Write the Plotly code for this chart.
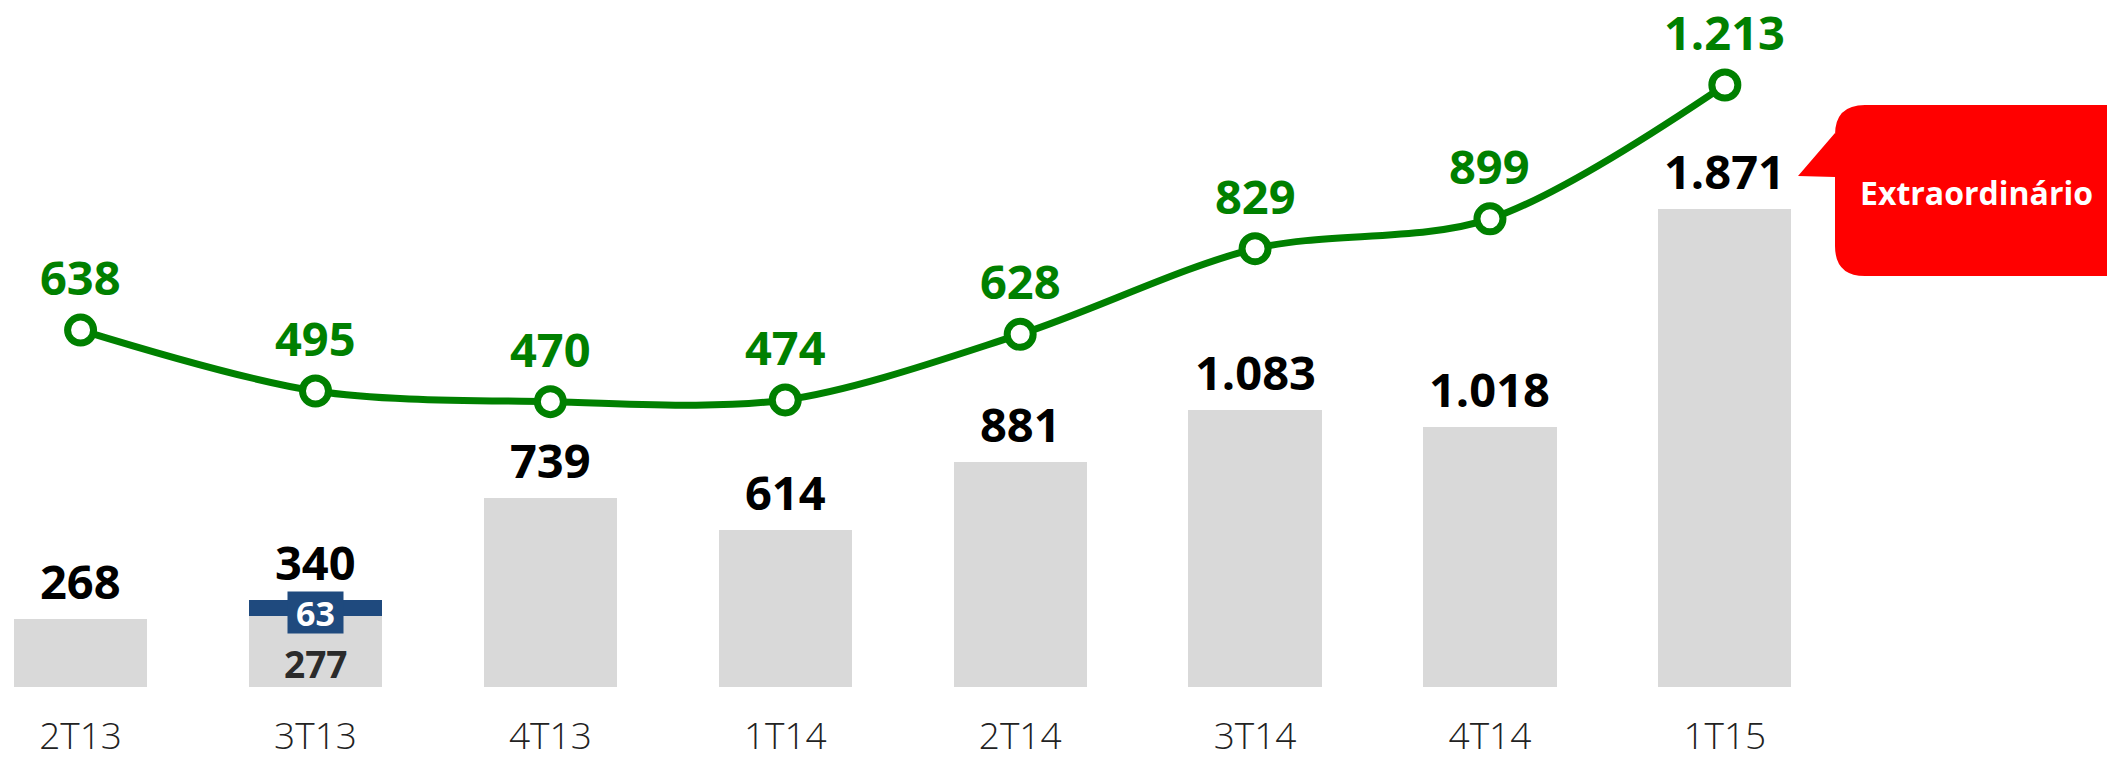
import plotly.graph_objects as go

categories = ["2T13", "3T13", "4T13", "1T14", "2T14", "3T14", "4T14", "1T15"]
bar_base = [268, 277, 739, 614, 881, 1083, 1018, 1871]
bar_extra = [0, 63, 0, 0, 0, 0, 0, 0]
line_values = [638, 495, 470, 474, 628, 829, 899, 1213]
callout_text = "Extraordinário"

GREEN = "#008000"
GRAY = "#D9D9D9"
BLUE = "#1F4A7E"
RED = "#FF0000"
FONT_B = "Open Sans"

W, H = 2115, 757
OFF = 8          # page offset of the plot div (body margin)
MB = 78
PH = H - MB


def fmt(v):
    return f"{v:,}".replace(",", ".")


fig = go.Figure()
fig.add_trace(go.Bar(x=categories, y=bar_base, marker=dict(color=GRAY, line=dict(width=0)),
                     width=0.567, yaxis="y", hoverinfo="skip"))
fig.add_trace(go.Bar(x=categories, y=bar_extra, marker=dict(color=BLUE, line=dict(width=0)),
                     width=0.567, yaxis="y", hoverinfo="skip"))
fig.add_trace(go.Scatter(x=categories, y=line_values, yaxis="y2", mode="lines+markers",
                         line=dict(color=GREEN, width=7, shape="spline", smoothing=0.9),
                         marker=dict(symbol="circle", size=26, color="white",
                                     line=dict(color=GREEN, width=7)),
                         hoverinfo="skip"))

annotations = []
for c, b, e, l in zip(categories, bar_base, bar_extra, line_values):
    total = b + e
    annotations.append(dict(x=c, y=total, xref="x", yref="y", text=f"<b>{fmt(total)}</b>",
                            showarrow=False, yanchor="middle", yshift=38,
                            font=dict(family=FONT_B, size=47, color="black")))
    annotations.append(dict(x=c, y=l, xref="x", yref="y2", text=f"<b>{fmt(l)}</b>",
                            showarrow=False, yanchor="middle", yshift=53, height=50,
                            font=dict(family=FONT_B, size=47, color=GREEN)))
    if e:
        annotations.append(dict(x=c, y=b + e / 2, xref="x", yref="y", text=f"<b>{fmt(e)}</b>",
                                showarrow=False, yanchor="middle", yshift=-4,
                                bgcolor=BLUE, borderpad=0, width=55, height=41,
                                font=dict(family=FONT_B, size=34, color="white")))
        annotations.append(dict(x=c, y=0, xref="x", yref="y", text=f"<b>{fmt(b)}</b>",
                                showarrow=False, yanchor="middle", yshift=24,
                                font=dict(family=FONT_B, size=37, color="#2b2b2b")))


def px(x):
    return (x - OFF) / W


def py(y):
    return 1 - (y - OFF) / PH


# callout box (page-pixel geometry converted to paper coords)
x0, x1, y0, y1, r = 1835, 2135, 105, 276, 30
pts = [
    ("M", (x0 + r, y0)), ("L", (x1 - r, y0)), ("Q", (x1, y0), (x1, y0 + r)),
    ("L", (x1, y1 - r)), ("Q", (x1, y1), (x1 - r, y1)), ("L", (x0 + r, y1)),
    ("Q", (x0, y1), (x0, y1 - r)), ("L", (x0, 177)), ("L", (1798, 176)), ("L", (x0, 133)),
    ("L", (x0, y0 + r)), ("Q", (x0, y0), (x0 + r, y0)),
]
path = ""
for cmd, *cs in pts:
    path += cmd + " " + " ".join(f"{px(a):.5f},{py(b):.5f}" for a, b in cs) + " "
path += "Z"

fig.update_layout(
    width=W, height=H,
    margin=dict(l=0, r=0, t=0, b=MB, autoexpand=False),
    paper_bgcolor="white", plot_bgcolor="white",
    barmode="stack", showlegend=False,
    xaxis=dict(type="category", range=[-0.309, 8.695], showgrid=False, zeroline=False,
               showline=False, ticks="outside", ticklen=17, tickcolor="rgba(0,0,0,0)",
               automargin=False,
               tickfont=dict(family="Open Sans", size=37, color="#222222", weight=300)),
    yaxis=dict(range=[0, 2657.5], visible=False, showgrid=False, zeroline=False, automargin=False),
    yaxis2=dict(range=[-199.7, 1393.8], overlaying="y", visible=False, showgrid=False,
                zeroline=False, automargin=False),
    annotations=annotations + [
        dict(x=px(1976), y=py(193), xref="paper", yref="paper", text=f"<b>{callout_text}</b>",
             showarrow=False, xanchor="center", yanchor="middle",
             font=dict(family=FONT_B, size=32, color="white"))
    ],
    shapes=[dict(type="path", path=path, xref="paper", yref="paper",
                 fillcolor=RED, line=dict(width=0), layer="above")],
)

fig.write_html("out.html")
